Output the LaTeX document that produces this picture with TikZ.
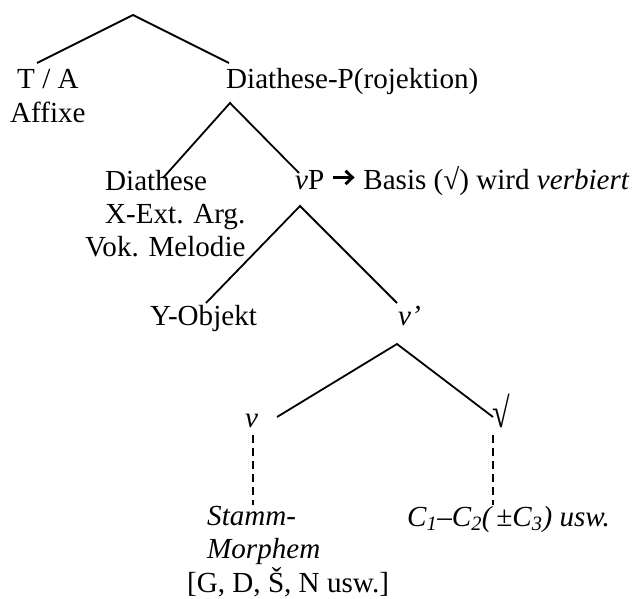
\documentclass[tikz,border=0pt]{standalone}
\usepackage{fontspec}
\setmainfont{Liberation Serif}
\usetikzlibrary{arrows.meta}
% bold inline arrow used in the vP label
\newcommand{\boldarrow}{\tikz[baseline=0pt]\draw[line width=0.1em,-{Straight Barb[length=0.24em,width=0.46em,line width=0.1em]}] (0pt,0.43em) -- (0.74em,0.43em);}
% taller root sign
\newcommand{\rootsign}{\scalebox{1.1}[1.45]{√}}
\begin{document}
\begin{tikzpicture}[x=1pt,y=-1pt,
  lbl/.style={anchor=base west, inner sep=0pt, font=\fontsize{29.1pt}{33.5pt}\selectfont},
  branch/.style={line width=1.8pt},
  link/.style={line width=1.9pt, dash pattern=on 8pt off 5pt}]
\useasboundingbox (0,0) rectangle (638,599);

% labels
\node[lbl] (ta)     at (17,89)   {T / A};
\node[lbl] (affixe) at (10,123)  {Affixe};
\node[lbl] (dp)     at (226,89)  {Diathese-P(rojektion)};
\node[lbl] (dia1)   at (105,191) {Diathese};
\node[lbl] (dia2)   at (105,224) {X-Ext. Arg.};
\node[lbl] (dia3)   at (85,257)  {Vok. Melodie};
\node[lbl] (vp)     at (295,190) {\textit{v}P \boldarrow{} Basis (√) wird \textit{verbiert}};
\node[lbl] (yobj)   at (150,325) {Y-Objekt};
\node[lbl] (vbar)   at (398,325) {\textit{v’}};
\node[lbl] (vhead)  at (245,427) {\textit{v}};
\node[lbl] (root)   at (492,427) {\rootsign};
\node[lbl] (stamm)  at (207,525) {\textit{Stamm-}};
\node[lbl] (morph)  at (207,558) {\textit{Morphem}};
\node[lbl] (cons)   at (187,592) {[G, D, Š, N usw.]};
\node[lbl] (cc)     at (407,526) {\textit{C\textsubscript{1}–C\textsubscript{2}(\,±C\textsubscript{3}) usw.}};

% branching points and line ends
\coordinate (top)    at (133,15);
\coordinate (topL)   at (37,63);
\coordinate (topR)   at (229,63);
\coordinate (dpA)    at (230,103);
\coordinate (dpL)    at (163,178);
\coordinate (dpR)    at (299,173);
\coordinate (vpA)    at (300,206);
\coordinate (vpL)    at (206,303);
\coordinate (vpR)    at (397,303);
\coordinate (vbA)    at (397,344);
\coordinate (vbL)    at (277,417);
\coordinate (vbR)    at (493,417);
\coordinate (vT)     at (253,435);
\coordinate (vB)     at (253,505);
\coordinate (rT)     at (493,435);
\coordinate (rB)     at (493,505);

% tree branches
\draw[branch] (topL) -- (top) -- (topR);
\draw[branch] (dpL) -- (dpA) -- (dpR);
\draw[branch] (vpL) -- (vpA) -- (vpR);
\draw[branch] (vbL) -- (vbA) -- (vbR);

% dashed links to the exponents
\draw[link] (vT) -- (vB);
\draw[link] (rT) -- (rB);
\end{tikzpicture}
\end{document}
